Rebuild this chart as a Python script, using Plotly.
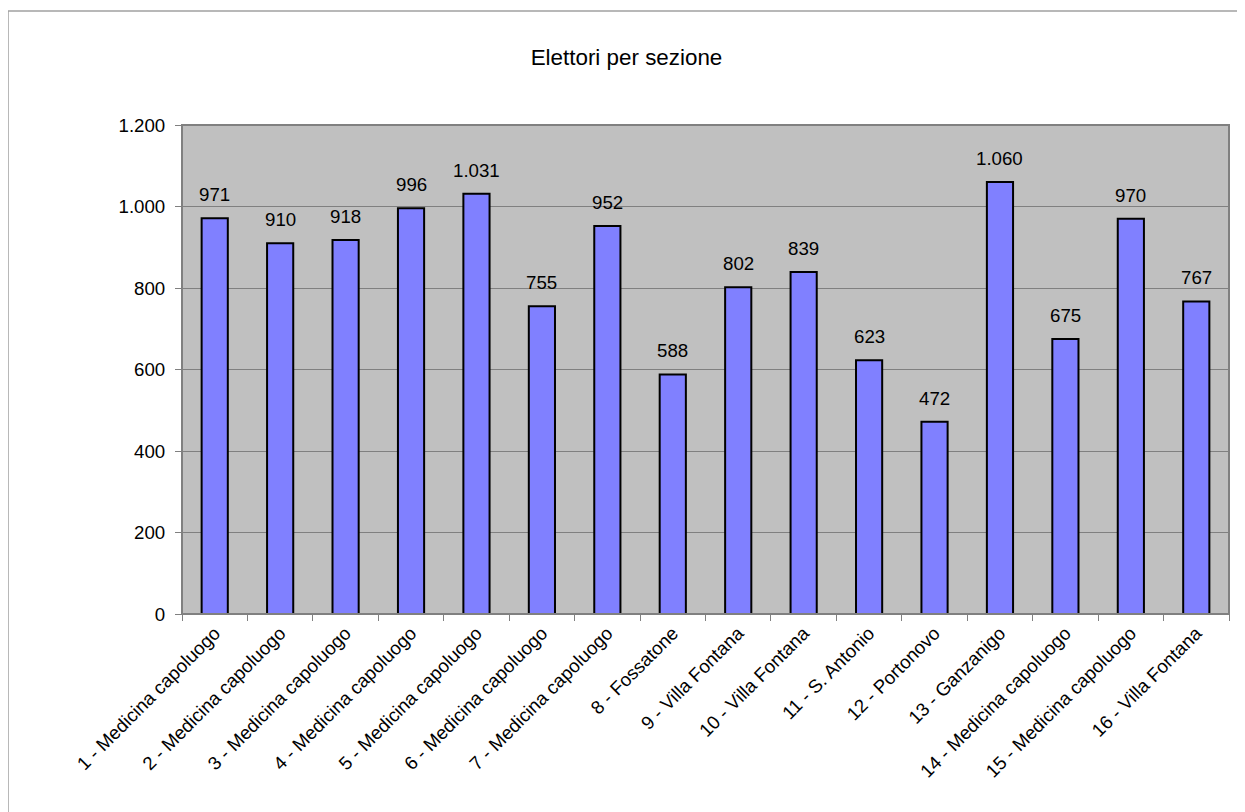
import plotly.graph_objects as go

categories = [
    "1 - Medicina capoluogo", "2 - Medicina capoluogo", "3 - Medicina capoluogo",
    "4 - Medicina capoluogo", "5 - Medicina capoluogo", "6 - Medicina capoluogo",
    "7 - Medicina capoluogo", "8 - Fossatone", "9 - Villa Fontana",
    "10 - Villa Fontana", "11 - S. Antonio", "12 - Portonovo",
    "13 - Ganzanigo", "14 - Medicina capoluogo", "15 - Medicina capoluogo",
    "16 - Villa Fontana",
]
elettori = [971, 910, 918, 996, 1031, 755, 952, 588, 802, 839, 623, 472, 1060, 675, 970, 767]
y_ticks = [0, 200, 400, 600, 800, 1000, 1200]

FONT = "Liberation Sans, Arial"
# page has an 8px body margin; figure sized to fit the window
W, H = 1237, 804
L, R, T, B = 174, 1221, 117, 606
pw, ph = R - L, B - T

fig = go.Figure(go.Bar(
    x=categories, y=elettori,
    marker=dict(color="#8080FF", line=dict(color="black", width=2)),
    hoverinfo="x+y",
))

for c, v in zip(categories, elettori):
    fig.add_annotation(x=c, y=v, text=f"{v:,}".replace(",", "."), showarrow=False,
                       yanchor="bottom", yshift=11,
                       font=dict(family=FONT, size=18.7, color="black"))

bx = (0 - L) / pw
by = 1 + (T - 3) / ph
fig.add_shape(type="line", xref="paper", yref="paper", x0=bx, x1=bx, y0=-1, y1=by,
              line=dict(color="#A0A0A0", width=1.5))
fig.add_shape(type="line", xref="paper", yref="paper", x0=bx, x1=1.2, y0=by, y1=by,
              line=dict(color="#A0A0A0", width=1.5))
fig.add_shape(type="rect", xref="paper", yref="paper", x0=0, x1=1, y0=0, y1=1,
              line=dict(color="#808080", width=2), layer="above")

fig.update_layout(
    width=W, height=H,
    margin=dict(l=L, r=W - R, t=T, b=H - B),
    paper_bgcolor="white", plot_bgcolor="#C0C0C0",
    separators=",.",
    bargap=0.6,
    showlegend=False,
    title=dict(text="Elettori per sezione", x=0.5, xref="container", xanchor="center",
               y=1 - 49 / H, yanchor="middle",
               font=dict(family=FONT, size=22.4, color="black")),
    font=dict(family=FONT, size=18.7, color="black"),
    xaxis=dict(tickangle=-45, ticks="outside", tickson="boundaries", ticklen=6,
               tickcolor="#808080", showgrid=False, linecolor="#808080", showline=True,
               tickfont=dict(size=18.7)),
    yaxis=dict(range=[0, 1200], tickvals=y_ticks, tickformat=",", ticks="outside", ticklen=6,
               tickcolor="#808080", gridcolor="#808080", gridwidth=1, showline=True,
               linecolor="#808080", zeroline=False, tickfont=dict(size=18.7),
               ticklabelstandoff=6),
)

fig.write_html("out.html")
